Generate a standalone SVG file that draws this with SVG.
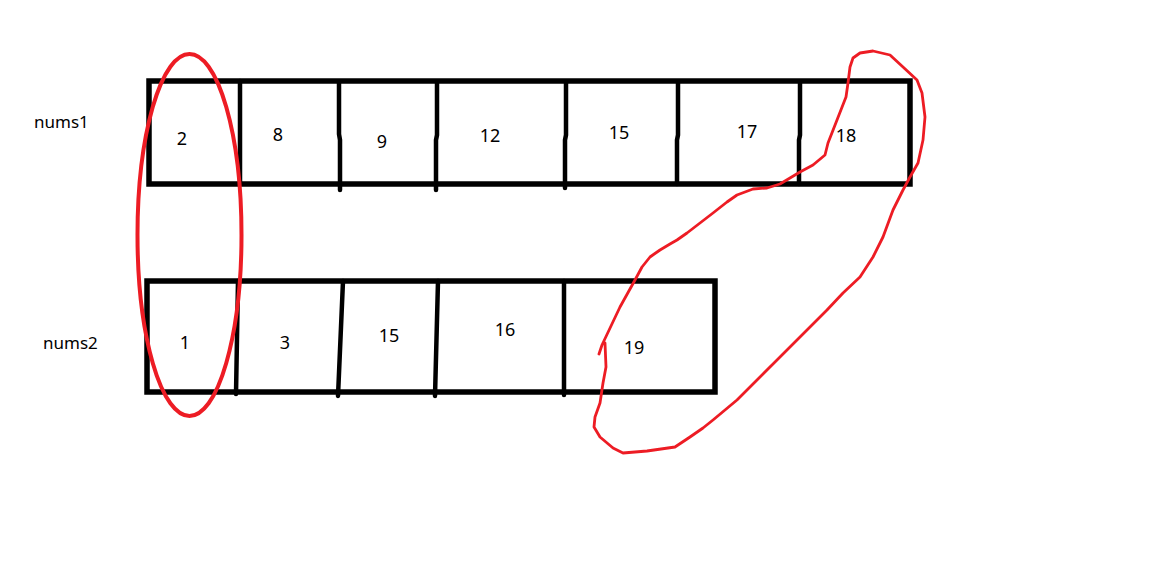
<svg xmlns="http://www.w3.org/2000/svg" width="1170" height="576" viewBox="0 0 1170 576">
<style>
.box{fill:none;stroke:#000;stroke-width:5.5;stroke-linejoin:miter}
.div{fill:none;stroke:#000;stroke-width:4.5;stroke-linecap:round}
.lbl{font-family:"Noto Sans","Liberation Sans",sans-serif;font-size:17px;fill:#000}
.num{font-family:"Noto Sans","Liberation Sans",sans-serif;font-size:18px;fill:#000;text-anchor:middle}
.red{fill:none;stroke:#ed1c24;stroke-width:2.8;stroke-linecap:round;stroke-linejoin:round}
.oval{fill:none;stroke:#ed1c24;stroke-width:4}
</style>
<rect width="1170" height="576" fill="#fff"/>
<g id="nums1">
<text class="lbl" x="34" y="128">nums1</text>
<rect class="box" x="149" y="81" width="761" height="103"/>
<path class="div" d="M240 81 V184 M339 82 V134 L340 140 V190 M437 82 V135 L436 140 V190 M566 82 V135 L565 140 V188 M678 82 V135 L677 140 V184 M800 82 V135 L799 140 V184"/>
<text class="num" x="182" y="145">2</text>
<text class="num" x="278" y="141">8</text>
<text class="num" x="382" y="148">9</text>
<text class="num" x="490" y="142">12</text>
<text class="num" x="619" y="139">15</text>
<text class="num" x="747" y="138">17</text>
<text class="num" x="846" y="142">18</text>
</g>
<g id="nums2">
<text class="lbl" x="43" y="349">nums2</text>
<rect class="box" x="147" y="281" width="568" height="111"/>
<path class="div" d="M238 281 L236 394 M343 281 L338 396 M438 281 L435 396 M564 281 V395"/>
<text class="num" x="185" y="349">1</text>
<text class="num" x="285" y="349">3</text>
<text class="num" x="389" y="342">15</text>
<text class="num" x="505" y="336">16</text>
<text class="num" x="634" y="354">19</text>
</g>
<g id="marks">
<ellipse class="oval" cx="189.5" cy="235" rx="52" ry="181"/>
<path class="red" d="M599 354 L602 345 L620 307 L635 280 L642 267 L650 257 L660 250 L670 244 L677 240 L687 233 L700 223 L713 213 L727 202 L737 195 L753 189 L767 188 L780 184 L800 172 L813 165 L825 155 L828 143 L837 120 L846 97 L848 83 L850 67 L853 58 L860 53 L873 51 L890 55 L903 67 L917 80 L922 93 L925 117 L923 140 L918 163 L910 177 L903 190 L893 210 L883 237 L873 257 L860 277 L843 293 L827 310 L807 330 L780 357 L760 377 L737 400 L713 420 L703 428 L690 437 L675 447 L647 451 L623 453 L613 448 L600 437 L594 427 L595 417 L600 403 L603 383 L606 367 L605 343"/>
</g>
</svg>
